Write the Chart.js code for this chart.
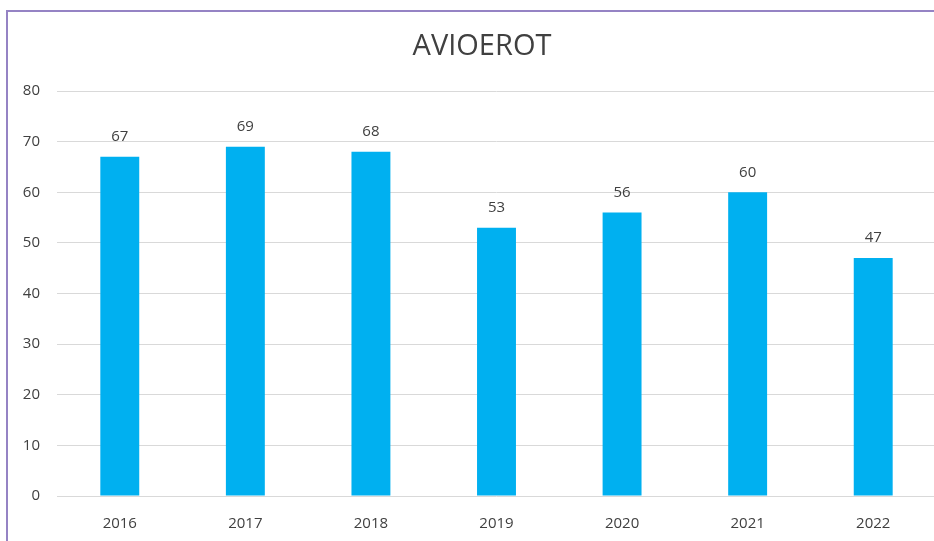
<!DOCTYPE html>
<html>
<head>
<meta charset="utf-8">
<script src="https://cdn.jsdelivr.net/npm/chart.js@4"></script>
<style>
html,body{margin:0;padding:0;width:934px;height:541px;overflow:hidden;background:#fff;}
#frame{position:absolute;left:6px;top:10px;width:1000px;height:600px;border:2px solid #9583c4;box-sizing:border-box;}
#wrap{position:absolute;left:0;top:0;width:936px;height:541px;}
</style>
</head>
<body>
<div id="frame"></div>
<div id="wrap"><canvas id="c" width="936" height="541"></canvas></div>
<script>
const categories = ["2016","2017","2018","2019","2020","2021","2022"];
const values = [67, 69, 68, 53, 56, 60, 47];
const yTicks = [0,10,20,30,40,50,60,70,80];
const chartTitle = "AVIOEROT";

const labelPlugin = {
  id: 'valueLabels',
  afterDatasetsDraw(chart) {
    const ctx = chart.ctx;
    const meta = chart.getDatasetMeta(0);
    ctx.save();
    ctx.font = '15px "Open Sans", sans-serif';
    ctx.fillStyle = '#404040';
    ctx.textAlign = 'center';
    ctx.textBaseline = 'middle';
    meta.data.forEach((bar, i) => {
      ctx.fillText(String(values[i]), bar.x, bar.y - 20);
    });
    // chart title
    ctx.font = '29px "Open Sans", sans-serif';
    ctx.fillStyle = '#404040';
    ctx.fillText(chartTitle, 482, 47);
    ctx.restore();
  }
};

new Chart(document.getElementById('c'), {
  type: 'bar',
  data: {
    labels: categories,
    datasets: [{
      data: values,
      backgroundColor: '#00B0F0',
      categoryPercentage: 1,
      barPercentage: 0.31
    }]
  },
  options: {
    responsive: false,
    animation: false,
    layout: { padding: { top: 91 } },
    plugins: {
      legend: { display: false },
      tooltip: { enabled: false },
      title: { display: false }
    },
    scales: {
      x: {
        grid: { display: false },
        border: { display: false },
        ticks: { color: '#404040', font: { family: '"Open Sans", sans-serif', size: 15 }, padding: 11, maxRotation: 0 },
        afterFit(s) { s.height = 45; }
      },
      y: {
        min: 0, max: 80,
        afterBuildTicks(s) { s.ticks = yTicks.map(v => ({ value: v })); },
        grid: { color: '#d9d9d9', drawTicks: false, lineWidth: 1 },
        border: { display: false },
        ticks: { color: '#404040', font: { family: '"Open Sans", sans-serif', size: 15 }, padding: 17 },
        afterFit(s) { s.width = 57; }
      }
    }
  },
  plugins: [labelPlugin]
});
</script>
</body>
</html>
